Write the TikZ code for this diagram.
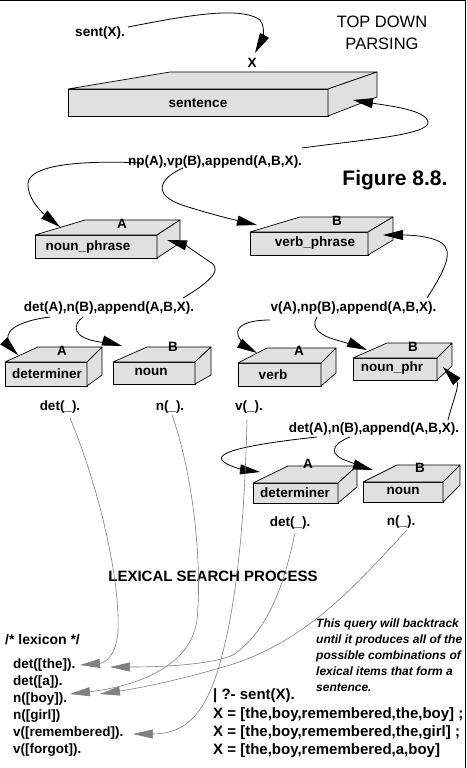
\documentclass[tikz,border=0pt]{standalone}
\usepackage{fontspec}
\setmainfont{Liberation Sans}
\usetikzlibrary{arrows.meta}
\definecolor{boxgray}{RGB}{224,224,224}
\definecolor{linegray}{RGB}{128,128,128}
% faces of a 3D box: x1,y1 (front top-left), x2,y2 (front bottom-right), back-left x, back-right x, back top y, back bottom y
\newcommand\tdfaces[8]{%
  \filldraw[face] (#1,#2) rectangle (#3,#4);
  \filldraw[face] (#1,#2) -- (#5,#7) -- (#6,#7) -- (#3,#2) -- cycle;
  \filldraw[face] (#3,#2) -- (#6,#7) -- (#6,#8) -- (#3,#4) -- cycle;
}
\begin{document}
\begin{tikzpicture}[x=1pt,y=-1pt,line join=round,
  face/.style={fill=boxgray,draw=black,line width=0.7pt},
  lbl/.style={font=\fontsize{13.5}{16}\selectfont\bfseries,inner sep=0pt},
  big/.style={font=\fontsize{15}{18}\selectfont\bfseries,inner sep=0pt},
  conn/.style={line width=0.8pt,-{Triangle[length=20pt,width=10pt]}},
  lexarr/.style={draw=linegray,line width=0.6pt,-{Triangle[length=20pt,width=9pt,color=linegray]}}]
\useasboundingbox (0,0) rectangle (466,768);
\fill[white] (0,0) rectangle (466,768);
\draw[line width=1pt] (0,0.5) -- (465.5,0.5) -- (465.5,768);

% ---- boxes
\tdfaces{68}{89}{328}{116}{170}{377}{72}{97}
\node[lbl] (sentence) at (198,103) {sentence};

\tdfaces{35}{235}{157}{258}{85}{180}{220}{243}
\node[lbl] (nounphrase) at (88,247) {noun\_phrase};
\node[lbl] (npA) at (122,224) {A};

\tdfaces{250}{232}{368}{255}{300}{393}{217}{240}
\node[lbl] (verbphrase) at (315,243) {verb\_phrase};
\node[lbl] (vpB) at (337,221) {B};

\tdfaces{5}{362}{87}{386}{38}{102}{347}{375}
\node[lbl] (det1) at (47,374) {determiner};
\node[lbl] (det1A) at (62,351) {A};

\tdfaces{113}{362}{195}{384}{147}{211}{347}{375}
\node[lbl] (noun1) at (151,372) {noun};
\node[lbl] (noun1B) at (173,347) {B};

\tdfaces{238}{363}{321}{386}{267}{336}{348}{373}
\node[lbl] (verb) at (273,375) {verb};
\node[lbl] (verbA) at (299,351) {A};

\tdfaces{353}{358}{437}{380}{387}{452}{343}{366}
\node[lbl] (nounphr) at (392,368) {noun\_phr};
\node[lbl] (nounphrB) at (413,347) {B};

\tdfaces{253}{483}{338}{503}{288}{357}{466}{487}
\node[lbl] (det2) at (295,493) {determiner};
\node[lbl] (det2A) at (308,464) {A};

\tdfaces{363}{482}{443}{502}{397}{460}{465}{485}
\node[lbl] (noun2) at (403,491) {noun};
\node[lbl] (noun2B) at (420,468) {B};

% ---- texts
\node[lbl] (sentq) at (100,33) {sent(X).};
\node[lbl] (xtop) at (252,63) {X};
\node[font=\fontsize{16.5}{21.5}\selectfont,align=center,inner sep=0pt] (title) at (382,33) {TOP DOWN\\PARSING};
\node[lbl] (npline) at (215,162) {np(A),vp(B),append(A,B,X).};
\node[font=\fontsize{21}{24}\selectfont\bfseries,inner sep=0pt] (fig) at (395,180) {Figure 8.8.};
\node[lbl] (detline1) at (109,308) {det(A),n(B),append(A,B,X).};
\node[lbl] (vline) at (353.5,308) {v(A),np(B),append(A,B,X).};
\node[lbl] (dq1) at (60,407) {det(\_).};
\node[lbl] (nq1) at (170,407) {n(\_).};
\node[lbl] (vq) at (249,407) {v(\_).};
\node[lbl] (detline2) at (374,429) {det(A),n(B),append(A,B,X).};
\node[lbl] (dq2) at (290,523) {det(\_).};
\node[lbl] (nq2) at (401,522) {n(\_).};
\node[big] (lsp) at (213,576) {LEXICAL SEARCH PROCESS};
\node[font=\fontsize{14}{16}\selectfont\bfseries,inner sep=0pt,anchor=west] (lexc) at (5,640) {/* lexicon */};
\node[lbl,anchor=west] (lthe) at (13,665) {det([the]).};
\node[lbl,anchor=west] (la) at (13,682) {det([a]).};
\node[lbl,anchor=west] (lboy) at (13,699) {n([boy]).};
\node[lbl,anchor=west] (lgirl) at (13,716) {n([girl])};
\node[lbl,anchor=west] (lrem) at (13,733) {v([remembered]).};
\node[lbl,anchor=west] (lforgot) at (13,750) {v([forgot]).};
\node[font=\fontsize{12}{16}\selectfont\bfseries\itshape,align=left,anchor=west,inner sep=0pt] (note) at (316,655) {This query will backtrack\\until it produces all of the\\possible combinations of\\lexical items that form a\\sentence.};
\node[big,anchor=west] (query) at (213,696) {| ?- sent(X).};
\node[big,anchor=west] (r1) at (213,715) {X = [the,boy,remembered,the,boy] ;};
\node[big,anchor=west] (r2) at (213,733) {X = [the,boy,remembered,the,girl] ;};
\node[big,anchor=west] (r3) at (213,751) {X = [the,boy,remembered,a,boy]};

% ---- connector end points
\coordinate (a1s) at (128,27);   \coordinate (a1t) at (255,53);
\coordinate (a2s) at (302,148);  \coordinate (a2t) at (353,100);
\coordinate (a3s) at (143,163);  \coordinate (a3t) at (60,227);
\coordinate (a4s) at (183,168);  \coordinate (a4t) at (257,225);
\coordinate (a5s) at (183,298);  \coordinate (a5t) at (167,240);
\coordinate (a6s) at (427,298);  \coordinate (a6t) at (383,235);
\coordinate (a7s) at (50,317);   \coordinate (a7t) at (18,355);
\coordinate (a8s) at (83,317);   \coordinate (a8t) at (122,346);
\coordinate (a9s) at (270,320);  \coordinate (a9t) at (257,353);
\coordinate (a10s) at (317,317); \coordinate (a10t) at (367,350);
\coordinate (a11s) at (448,420); \coordinate (a11t) at (443,367);
\coordinate (a12s) at (317,437); \coordinate (a12t) at (260,472);
\coordinate (a13s) at (350,437); \coordinate (a13t) at (373,470);

\draw[conn] (a1s) .. controls (180,17) and (240,5) .. (260,20) .. controls (266,28) and (262,40) .. (a1t);
\draw[conn] (a2s) .. controls (360,140) and (430,135) .. (428,122) .. controls (426,110) and (390,106) .. (a2t);
\draw[conn] (a3s) .. controls (80,160) and (30,165) .. (28,183) .. controls (27,200) and (45,215) .. (a3t);
\draw[conn] (a4s) .. controls (160,178) and (150,195) .. (185,206) .. controls (210,214) and (235,220) .. (a4t);
\draw[conn] (a5s) .. controls (205,285) and (225,270) .. (210,262) .. controls (200,255) and (185,245) .. (a5t);
\draw[conn] (a6s) .. controls (445,270) and (455,250) .. (440,242) .. controls (430,236) and (410,235) .. (a6t);
\draw[conn] (a7s) .. controls (25,320) and (5,328) .. (8,340) .. controls (10,346) and (14,351) .. (a7t);
\draw[conn] (a8s) .. controls (72,325) and (72,338) .. (100,342) .. controls (108,343) and (115,344) .. (a8t);
\draw[conn] (a9s) .. controls (250,320) and (235,325) .. (238,335) .. controls (240,342) and (250,349) .. (a9t);
\draw[conn] (a10s) .. controls (310,328) and (320,336) .. (340,341) .. controls (350,344) and (360,347) .. (a10t);
\draw[conn] (a11s) .. controls (453,400) and (460,385) .. (a11t);
\draw[conn] (a12s) .. controls (270,442) and (215,450) .. (222,460) .. controls (226,466) and (245,470) .. (a12t);
\draw[conn] (a13s) .. controls (330,445) and (328,455) .. (350,462) .. controls (358,465) and (366,468) .. (a13t);

% ---- lexical search (gray)
\coordinate (g1s) at (70,418);  \coordinate (g1t) at (80,665);
\coordinate (g2s) at (172,415); \coordinate (g2t) at (70,694);
\coordinate (g3s) at (247,420); \coordinate (g3t) at (133,734);
\coordinate (g4s) at (295,533); \coordinate (g4t) at (110,667);
\coordinate (g5s) at (407,530); \coordinate (g5t) at (100,694);

\draw[lexarr] (g1s) .. controls (100,490) and (120,580) .. (118,630) .. controls (117,655) and (105,663) .. (g1t);
\draw[lexarr] (g2s) .. controls (195,480) and (202,570) .. (197,620) .. controls (190,670) and (130,687) .. (g2t);
\draw[lexarr] (g3s) .. controls (245,500) and (240,570) .. (228,630) .. controls (215,690) and (200,734) .. (g3t);
\draw[lexarr] (g4s) .. controls (285,580) and (270,630) .. (233,655) .. controls (210,665) and (160,667) .. (g4t);
\draw[lexarr] (g5s) .. controls (360,580) and (310,640) .. (230,665) .. controls (180,680) and (140,688) .. (g5t);
\end{tikzpicture}
\end{document}
